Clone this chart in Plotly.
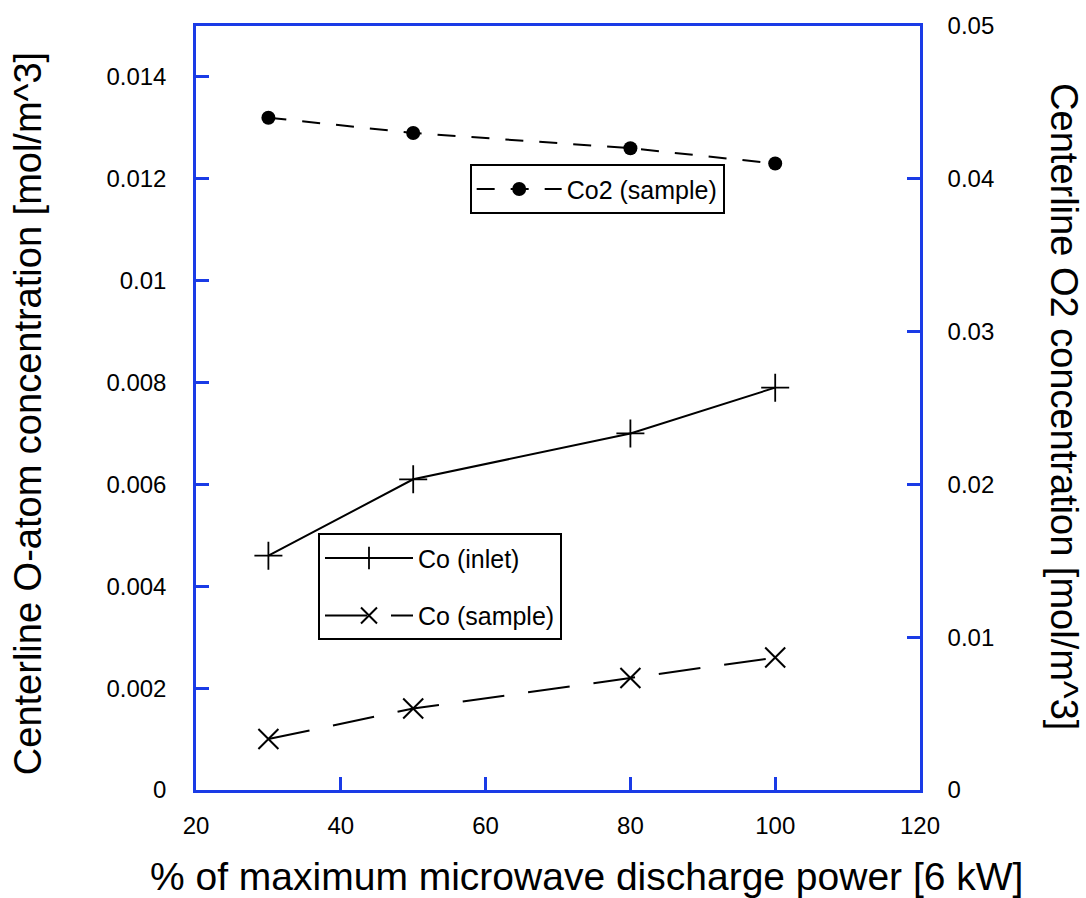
import plotly.graph_objects as go

# Discharge power settings (% of 6 kW maximum)
power_pct = [30, 50, 80, 100]

# Centerline O-atom concentration [mol/m^3]
co_inlet = [0.0046, 0.0061, 0.0070, 0.0079]
co_sample = [0.0010, 0.0016, 0.0022, 0.0026]

# Centerline O2 concentration [mol/m^3]
co2_sample = [0.044, 0.043, 0.042, 0.041]

AXIS_BLUE = "#1a3be6"
FONT = "Liberation Sans, Arial, sans-serif"

fig = go.Figure()

fig.add_trace(go.Scatter(
    x=power_pct, y=co_inlet, name="Co (inlet)", mode="lines+markers",
    line=dict(color="black", width=2),
    marker=dict(symbol="cross-thin", size=20, line=dict(color="black", width=1.8)),
    legend="legend", legendgroup="a",
))
fig.add_trace(go.Scatter(
    x=power_pct, y=co_sample, name="Co (sample)", mode="lines+markers",
    line=dict(color="black", width=2, dash="42px,24px"),
    marker=dict(symbol="x-thin", size=20, line=dict(color="black", width=2)),
    legend="legend", legendgroup="b",
))
fig.add_trace(go.Scatter(
    x=power_pct, y=co2_sample, name="Co2 (sample)", mode="lines+markers",
    line=dict(color="black", width=2, dash="18px,16px"),
    marker=dict(symbol="circle", size=14, color="black"),
    yaxis="y2", legend="legend2",
))

fig.update_layout(
    width=1086, height=898,
    margin=dict(l=196, r=166, t=22, b=108),
    paper_bgcolor="white", plot_bgcolor="white",
    font=dict(family=FONT, color="black", size=24),
    xaxis=dict(
        range=[20, 120], dtick=20, tick0=20,
        showline=True, linecolor=AXIS_BLUE, linewidth=2.5, mirror=True,
        ticks="inside", ticklen=13, tickwidth=2.5, tickcolor=AXIS_BLUE,
        showgrid=False, zeroline=False, ticklabelstandoff=12,
        tickfont=dict(size=24),
    ),
    yaxis=dict(
        range=[0, 0.015], dtick=0.002, tick0=0,
        showline=True, linecolor=AXIS_BLUE, linewidth=2.5,
        ticks="inside", ticklen=13, tickwidth=2.5, tickcolor=AXIS_BLUE,
        showgrid=False, zeroline=False, ticklabelstandoff=22,
        tickfont=dict(size=24),
    ),
    yaxis2=dict(
        range=[0, 0.05], dtick=0.01, tick0=0, overlaying="y", side="right",
        showline=True, linecolor=AXIS_BLUE, linewidth=2.5,
        ticks="inside", ticklen=13, tickwidth=2.5, tickcolor=AXIS_BLUE,
        showgrid=False, zeroline=False, ticklabelstandoff=20,
        tickfont=dict(size=24),
    ),
    legend=dict(
        x=0.1685, y=0.336, xanchor="left", yanchor="top",
        bordercolor="black", borderwidth=2, bgcolor="white",
        font=dict(size=25), tracegroupgap=22, itemwidth=88,
    ),
    legend2=dict(
        x=0.378, y=0.819, xanchor="left", yanchor="top",
        bordercolor="black", borderwidth=2, bgcolor="white",
        font=dict(size=25), itemwidth=85,
    ),
    showlegend=True,
)

fig.add_annotation(
    text="% of maximum microwave discharge power [6 kW]",
    xref="paper", yref="paper", x=0.539, y=0, yshift=-86,
    xanchor="center", yanchor="middle", showarrow=False,
    font=dict(size=39),
)
fig.add_annotation(
    text="Centerline O-atom concentration [mol/m^3]",
    xref="paper", yref="paper", x=-0.232, y=0.492,
    xanchor="center", yanchor="middle", showarrow=False,
    textangle=-90, font=dict(size=38),
)
fig.add_annotation(
    text="Centerline O2 concentration [mol/m^3]",
    xref="paper", yref="paper", x=1.198, y=0.502,
    xanchor="center", yanchor="middle", showarrow=False,
    textangle=90, font=dict(size=38),
)

fig.write_html("out.html")
